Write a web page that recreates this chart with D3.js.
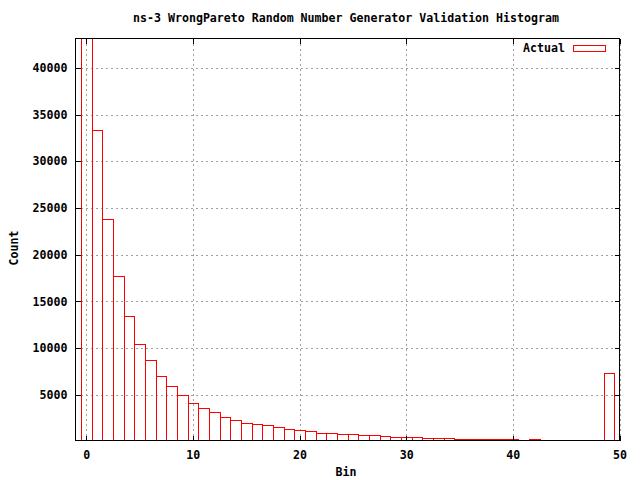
<!DOCTYPE html>
<html>
<head>
<meta charset="utf-8">
<script src="https://cdn.jsdelivr.net/npm/d3@7/dist/d3.min.js"></script>
<style>
  html, body { margin: 0; padding: 0; background: #fff; }
  svg text { font-family: "DejaVu Sans Mono", "Liberation Mono", monospace; font-weight: bold; font-size: 11.6px; fill: #000; }
</style>
</head>
<body>
<svg id="chart" width="640" height="480"></svg>
<script>
const titleText = "ns-3 WrongPareto Random Number Generator Validation Histogram";
const xLabel = "Bin";
const yLabel = "Count";
const seriesName = "Actual";
const bins = d3.range(0, 50);
const counts = [43150, 33360, 23840, 17740, 13450, 10460, 8740, 7030, 5960, 5000,
                4140, 3610, 3180, 2640, 2320, 2000, 1890, 1790, 1570, 1360,
                1250, 1150, 930, 930, 820, 820, 720, 720, 610, 500,
                500, 500, 400, 400, 400, 290, 290, 290, 290, 290,
                290, 200, 290, 110, 110, 110, 110, 110, 110, 7350];
const xTicks = [0, 10, 20, 30, 40, 50];
const yTicks = [5000, 10000, 15000, 20000, 25000, 30000, 35000, 40000];
const xDomain = [-1, 50];
const yDomain = [107, 43137];

const L = 75.5, R = 619.5, T = 38.5, B = 440.5;
const svg = d3.select("#chart");
const x = d3.scaleLinear().domain(xDomain).range([L, R]);
const y = d3.scaleLinear().domain(yDomain).range([B, T]);

svg.append("defs").append("clipPath").attr("id", "plotclip")
  .append("rect").attr("x", L).attr("y", T).attr("width", R - L).attr("height", B - T);

// grid
const gridX = svg.append("g").attr("transform", `translate(0,${B})`)
  .call(d3.axisBottom(x).tickValues(xTicks).tickSize(-(B - T)).tickFormat(""));
const gridY = svg.append("g").attr("transform", `translate(${L},0)`)
  .call(d3.axisLeft(y).tickValues(yTicks).tickSize(-(R - L)).tickFormat(""));
[gridX, gridY].forEach(g => {
  g.select(".domain").remove();
  g.selectAll(".tick line").attr("stroke", "#a0a0a0").attr("stroke-dasharray", "2,3").attr("shape-rendering", "crispEdges");
});

// bars
svg.append("g").attr("clip-path", "url(#plotclip)")
  .selectAll("rect").data(bins).join("rect")
  .attr("x", d => Math.round(x(d - 0.5)) + 0.5)
  .attr("width", d => Math.round(x(d + 0.5)) - Math.round(x(d - 0.5)))
  .attr("y", (d, i) => Math.round(Math.max(y(counts[i]), T - 5)) + 0.5)
  .attr("height", (d, i) => B + 5 - (Math.round(Math.max(y(counts[i]), T - 5)) + 0.5))
  .attr("fill", "none").attr("stroke", "#ff0000").attr("stroke-width", 1)
  .attr("shape-rendering", "crispEdges");

// axes with inward ticks (mirrored)
function styleAxis(g) {
  g.select(".domain").remove();
  g.selectAll(".tick line").attr("stroke", "#000").attr("shape-rendering", "crispEdges");
}
svg.append("g").attr("transform", `translate(${L},0)`)
  .call(d3.axisLeft(y).tickValues(yTicks).tickSize(-5).tickPadding(8).tickFormat(d3.format("d")))
  .call(styleAxis)
  .selectAll("text").attr("font-family", null).attr("font-size", null).attr("fill", null);
svg.append("g").attr("transform", `translate(${R},0)`)
  .call(d3.axisRight(y).tickValues(yTicks).tickSize(-5).tickFormat(""))
  .call(styleAxis);
svg.append("g").attr("transform", `translate(0,${B})`)
  .call(d3.axisBottom(x).tickValues(xTicks).tickSize(-5).tickPadding(10).tickFormat(d3.format("d")))
  .call(styleAxis)
  .selectAll("text").attr("font-family", null).attr("font-size", null).attr("fill", null);
svg.append("g").attr("transform", `translate(0,${T})`)
  .call(d3.axisTop(x).tickValues(xTicks).tickSize(-5).tickFormat(""))
  .call(styleAxis);

// border
svg.append("rect").attr("x", L).attr("y", T).attr("width", R - L).attr("height", B - T)
  .attr("fill", "none").attr("stroke", "#000").attr("stroke-width", 1).attr("shape-rendering", "crispEdges");

// titles
svg.append("text").attr("x", 346).attr("y", 22).attr("text-anchor", "middle").text(titleText);
svg.append("text").attr("x", 346).attr("y", 476).attr("text-anchor", "middle").text(xLabel);
svg.append("text").attr("transform", "translate(18,248) rotate(-90)").attr("text-anchor", "middle").text(yLabel);

// legend
svg.append("text").attr("x", 565).attr("y", 52).attr("text-anchor", "end").text(seriesName);
svg.append("rect").attr("x", 573.5).attr("y", 45.5).attr("width", 32).attr("height", 6)
  .attr("fill", "none").attr("stroke", "#ff0000").attr("stroke-width", 1).attr("shape-rendering", "crispEdges");
</script>
</body>
</html>
